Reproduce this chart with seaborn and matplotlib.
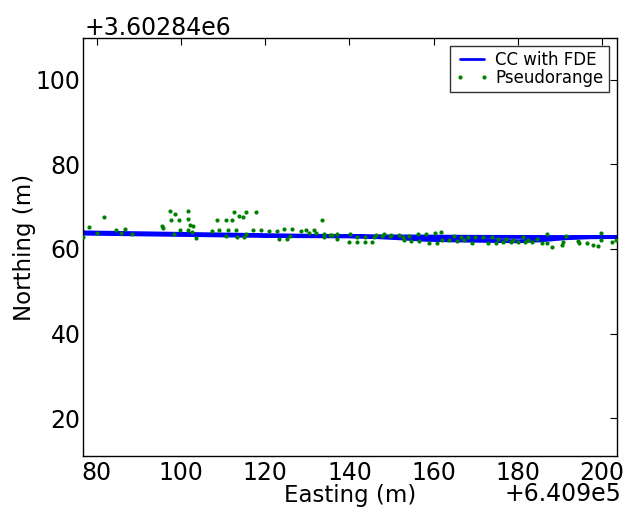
import matplotlib
matplotlib.use("Agg")
import matplotlib.pyplot as plt
from matplotlib.lines import Line2D
import seaborn as sns
import pandas as pd

E0 = 640900.0
N0 = 3602840.0

# Trajectory "CC with FDE" (east offset, north offset)
line_e = [77.0, 90.0, 110.0, 130.0, 150.0, 170.0, 190.0, 203.5,
          197.0, 191.0, 185.0, 180.0, 172.0, 165.0, 158.0, 152.0, 146.0, 140.0,
          120.0, 100.0, 77.0]
line_n = [63.9, 63.7, 63.4, 63.1, 62.95, 62.85, 62.8, 62.8,
          62.75, 62.5, 62.0, 61.8, 61.9, 62.0, 62.15, 62.5, 62.8, 62.95,
          63.05, 63.3, 63.6]

# Pseudorange fixes
pr_e = [76.8, 78.2, 81.8, 80.0, 84.6, 85.9, 86.7, 88.3, 95.4, 95.7, 97.5, 98.6, 97.6, 98.3,
        99.6, 101.6, 101.6, 102.2, 102.9, 99.7, 101.7, 102.7, 103.6, 107.4, 108.5, 109.1,
        110.6, 111.1, 112.1, 112.6, 113.7, 114.7, 115.5, 117.8, 110.6, 113.1, 113.2, 115.0,
        115.5, 117.0, 119.0, 120.8, 122.7, 123.4, 124.4, 125.2, 126.3, 126.0, 128.5, 129.8,
        130.3, 131.6, 132.1, 133.6, 133.9, 133.9, 135.4, 135.9, 137.0, 137.0, 139.9,
        140.1, 141.8, 141.8, 143.7, 143.6, 145.4, 145.9, 146.4, 147.7, 148.2, 149.6, 149.9,
        151.8, 152.7, 152.9, 154.2, 154.6, 156.3, 156.4, 158.1, 158.9, 160.2, 160.7, 161.8,
        161.9, 163.7, 164.7, 165.5, 166.5, 167.3, 168.1, 169.2, 169.9,
        171.7, 173.0, 173.8, 174.8, 175.3, 176.5, 177.2, 178.3, 178.8, 179.9, 181.3, 181.7,
        182.4, 183.3, 184.4, 185.6, 187.0, 186.8, 188.0, 190.5, 190.7, 191.3, 194.3, 194.5,
        196.4, 197.8, 199.1, 199.6, 199.7, 202.2, 203.3]
pr_n = [62.9, 65.1, 67.6, 63.8, 64.4, 63.8, 64.8, 63.4, 65.4, 65.0, 69.0, 68.2, 66.8, 63.5,
        66.8, 69.0, 67.1, 65.7, 65.4, 64.5, 64.4, 64.1, 62.5, 64.2, 66.8, 64.4,
        66.8, 64.4, 66.8, 68.7, 67.7, 67.6, 68.7, 68.7, 63.1, 64.4, 62.7, 62.8,
        63.6, 64.4, 64.4, 64.3, 64.2, 62.3, 64.6, 62.3, 64.6, 63.1, 64.2, 64.4,
        63.7, 64.5, 63.7, 66.9, 63.5, 62.7, 63.3, 63.3, 63.5, 62.3, 61.7,
        63.5, 62.9, 61.7, 62.8, 61.7, 61.7, 62.9, 63.3, 63.1, 63.5, 63.0, 63.3,
        63.3, 62.8, 62.1, 63.0, 61.8, 63.4, 61.8, 63.5, 61.3, 63.7, 61.3, 64.1,
        62.0, 62.0, 63.1, 61.8, 62.9, 62.0, 62.7, 61.5, 62.7,
        62.7, 61.3, 62.8, 61.3, 62.4, 61.7, 62.4, 61.7, 62.2, 61.7, 62.8, 61.6,
        62.1, 61.7, 62.3, 61.3, 63.4, 61.5, 60.5, 60.9, 61.7, 63.0, 61.9, 61.3,
        61.5, 61.0, 60.6, 63.8, 62.0, 61.7, 62.0]

x_ticks = [80, 100, 120, 140, 160, 180, 200]
y_ticks = [20, 40, 60, 80, 100]

line_df = pd.DataFrame({"Easting": [E0 + v for v in line_e],
                        "Northing": [N0 + v for v in line_n]})
pr_df = pd.DataFrame({"Easting": [E0 + v for v in pr_e],
                      "Northing": [N0 + v for v in pr_n]})

sns.set_style("white")
plt.rcParams["font.family"] = ["DejaVu Sans"]
plt.rcParams["text.color"] = "black"
plt.rcParams["axes.labelcolor"] = "black"
plt.rcParams["xtick.color"] = "black"
plt.rcParams["ytick.color"] = "black"

fig = plt.figure(figsize=(6.29, 5.08), dpi=100)
ax = fig.add_axes([0.1315, 0.1024, 0.8494, 0.8228])

sns.lineplot(data=line_df, x="Easting", y="Northing", sort=False, estimator=None,
             color=(0, 0, 1), linewidth=2.8, ax=ax)
sns.scatterplot(data=pr_df, x="Easting", y="Northing", color=(0, 0.5, 0),
                marker="o", s=9, linewidth=0, ax=ax, zorder=3)

ax.set_xlim(E0 + 76.7, E0 + 203.5)
ax.set_ylim(N0 + 11.1, N0 + 109.8)
ax.set_xticks([E0 + v for v in x_ticks])
ax.set_xticklabels([str(v) for v in x_ticks])
ax.set_yticks([N0 + v for v in y_ticks])
ax.set_yticklabels([str(v) for v in y_ticks])

ax.tick_params(direction="in", top=True, right=True, length=5, width=0.8,
               labelsize=17, color="black", labelcolor="black")
ax.tick_params(axis="y", pad=1.5)
ax.tick_params(axis="x", pad=3.5)
for s in ax.spines.values():
    s.set_color("black")
    s.set_linewidth(1.0)

# offset annotations (as in the original scalar formatter)
ax.text(0.004, 1.0 + 3 / 418, "+3.60284e6", transform=ax.transAxes,
        ha="left", va="baseline", fontsize=17, color="black")
ax.text(1.0075, -45 / 418, "+6.409e5", transform=ax.transAxes,
        ha="right", va="baseline", fontsize=17, color="black")

ax.set_xlabel("Easting (m)", fontsize=16.5, va="baseline")
ax.xaxis.set_label_coords(0.5, -46 / 418)
ax.set_ylabel("Northing (m)", fontsize=16.5)
ax.yaxis.set_label_coords(-0.088, 0.5)

handles = [Line2D([], [], color=(0, 0, 1), lw=2),
           Line2D([], [], color=(0, 0.5, 0), marker=".", ls="", markersize=4)]
leg = ax.legend(handles, ["CC with FDE", "Pseudorange"], loc="upper right",
                fontsize=12, numpoints=2, fancybox=False, frameon=True,
                borderaxespad=0.5, handlelength=2.0, labelspacing=0.0,
                borderpad=0.3, handletextpad=0.4)
leg.get_frame().set_edgecolor("black")
leg.get_frame().set_linewidth(1.0)

fig.savefig("out.png", dpi=100, facecolor="white")
